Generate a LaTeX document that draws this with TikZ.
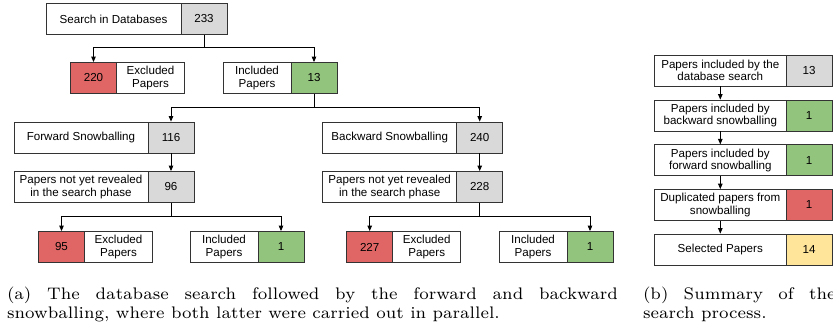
\documentclass[tikz,border=0pt]{standalone}
\usepackage{fontspec}
\usepackage{graphicx}
\newfontfamily\boxfont{Liberation Sans}
\usetikzlibrary{arrows.meta}
\definecolor{cred}{HTML}{E06666}
\definecolor{cgreen}{HTML}{93C47D}
\definecolor{cgray}{HTML}{D9D9D9}
\definecolor{cyellow}{HTML}{FFE599}
\definecolor{cline}{HTML}{333333}
\newcommand{\capfont}{\fontsize{7}{8}\selectfont}
\begin{document}
\begin{tikzpicture}[x=1pt,y=-1pt,
  cell/.style={draw=cline,line width=0.8pt,minimum height=31pt,inner sep=0pt,
    align=center,font=\boxfont\fontsize{11.6}{12.4}\selectfont},
  labw/.style={cell,fill=white,minimum width=#1},
  num/.style={cell,fill=#1,minimum width=46pt},
  conn/.style={draw=black,line width=0.9pt,-{Triangle[length=5.5pt,width=4.5pt]}},
  captxt/.style={anchor=base west,inner sep=0pt,outer sep=0pt}
]
\clip (0,0) rectangle (833,328);
\useasboundingbox (0,0) rectangle (833,328);

% ---- (a) tree ----
\node[labw=135pt] (sl) at (113.5,19) {Search in Databases};
\node[num=cgray] (sn) at (204,19) {233};

\node[num=cred] (e1n) at (93.5,78) {220};
\node[labw=68pt] (e1l) at (150.5,78) {Excluded\\Papers};
\node[labw=68pt] (i1l) at (257,78) {Included\\Papers};
\node[num=cgreen] (i1n) at (314,78) {13};

\node[labw=134pt] (fsl) at (81,137.5) {Forward Snowballing};
\node[num=cgray] (fsn) at (171,137.5) {116};
\node[labw=134pt] (fpl) at (81,187) {Papers not yet revealed\\in the search phase};
\node[num=cgray] (fpn) at (171,187) {96};

\node[num=cred] (e2n) at (61.5,247) {95};
\node[labw=68pt] (e2l) at (118.5,247) {Excluded\\Papers};
\node[labw=68pt] (i2l) at (224,247) {Included\\Papers};
\node[num=cgreen] (i2n) at (281,247) {1};

\node[labw=134pt] (bsl) at (389.7,137.5) {Backward Snowballing};
\node[num=cgray] (bsn) at (479.7,137.5) {240};
\node[labw=134pt] (bpl) at (389.7,187) {Papers not yet revealed\\in the search phase};
\node[num=cgray] (bpn) at (479.7,187) {228};

\node[num=cred] (e3n) at (369.7,247) {227};
\node[labw=68pt] (e3l) at (426.7,247) {Excluded\\Papers};
\node[labw=68pt] (i3l) at (533,247) {Included\\Papers};
\node[num=cgreen] (i3n) at (590,247) {1};

\draw[conn] (sn.south) -- ++(0,13) -| (e1n.north);
\draw[conn] (sn.south) -- ++(0,13) -| (i1n.north);
\draw[conn] (i1n.south) -- ++(0,13.5) -| (fsn.north);
\draw[conn] (i1n.south) -- ++(0,13.5) -| (bsn.north);
\draw[conn] (fsn.south) -- (fpn.north);
\draw[conn] (bsn.south) -- (bpn.north);
\draw[conn] (fpn.south) -- ++(0,14) -| (e2n.north);
\draw[conn] (fpn.south) -- ++(0,14) -| (i2n.north);
\draw[conn] (bpn.south) -- ++(0,14) -| (e3n.north);
\draw[conn] (bpn.south) -- ++(0,14) -| (i3n.north);

% ---- (b) summary ----
\node[labw=131.3pt] (r1l) at (720.3,70.5) {Papers included by the\\database search};
\node[num=cgray] (r1n) at (809,70.5) {13};
\node[labw=131.3pt] (r2l) at (720.3,115.5) {Papers included by\\backward snowballing};
\node[num=cgreen] (r2n) at (809,115.5) {1};
\node[labw=131.3pt] (r3l) at (720.3,160.3) {Papers included by\\forward snowballing};
\node[num=cgreen] (r3n) at (809,160.3) {1};
\node[labw=131.3pt] (r4l) at (720.3,205) {Duplicated papers from\\snowballing};
\node[num=cred] (r4n) at (809,205) {1};
\node[labw=131.3pt] (r5l) at (720.3,249.5) {Selected Papers};
\node[num=cyellow] (r5n) at (809,249.5) {14};

\draw[conn] (r1l.south) -- (r2l.north);
\draw[conn] (r2l.south) -- (r3l.north);
\draw[conn] (r3l.south) -- (r4l.north);
\draw[conn] (r4l.south) -- (r5l.north);

% ---- captions ----
\node[captxt] (ca1) at (7,299.3) {\scalebox{2.39}{\capfont\makebox[255.6pt][s]{(a) The database search followed by the forward and backward}}};
\node[captxt] (ca2) at (7,318.7) {\scalebox{2.39}{\capfont snowballing, where both latter were carried out in parallel.}};
\node[captxt] (cb1) at (643,299.3) {\scalebox{2.39}{\capfont\makebox[80.6pt][s]{(b) Summary of the}}};
\node[captxt] (cb2) at (643,318.7) {\scalebox{2.39}{\capfont search process.}};
\end{tikzpicture}
\end{document}
